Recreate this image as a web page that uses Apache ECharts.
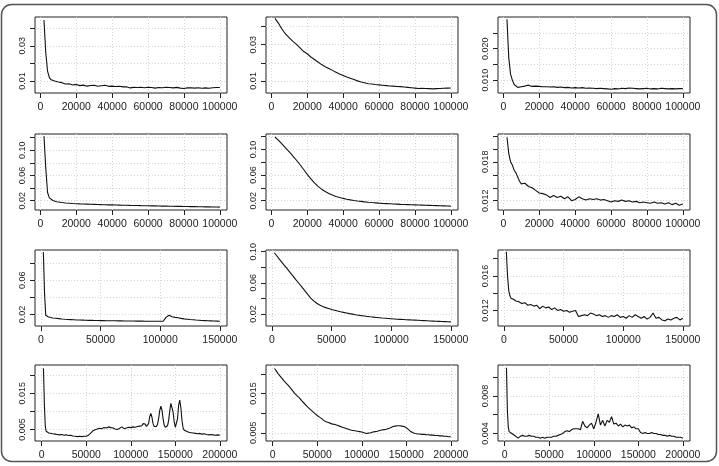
<!DOCTYPE html>
<html>
<head>
<meta charset="utf-8">
<script src="https://cdn.jsdelivr.net/npm/echarts@6/dist/echarts.min.js"></script>
<style>
  html, body { margin: 0; padding: 0; background: #fff; }
  #chart { width: 719px; height: 466px; }
</style>
</head>
<body>
<div id="chart"></div>
<script>
// x positions shared by each row of panels
const x100 = [2000,3000,4000,5000,6000,7000,8000,9000,10000,12000,14000,16000,18000,20000,22000,24000,26000,28000,30000,32000,34000,36000,38000,40000,42000,44000,46000,48000,50000,52000,54000,56000,58000,60000,62000,64000,66000,68000,70000,72000,74000,76000,78000,80000,82000,84000,86000,88000,90000,92000,94000,96000,98000,100000];
const x150 = [2000,3000,4000,5000,6000,8000,10000,12500,15000,17500,20000,22500,25000,27500,30000,32500,35000,37500,40000,42500,45000,47500,50000,52500,55000,57500,60000,62500,65000,67500,70000,72500,75000,77500,80000,82500,85000,87500,90000,92500,95000,97500,100000,102500,105000,107500,110000,112500,115000,117500,120000,122500,125000,127500,130000,132500,135000,137500,140000,142500,145000,147500,150000];
const x200 = [2000,3000,4000,5000,6000,8000,10000,12500,15000,17500,20000,22500,25000,27500,30000,32500,35000,37500,40000,42500,45000,47500,50000,52500,55000,57500,60000,62500,65000,67500,70000,72500,75000,77500,80000,82500,85000,87500,90000,92500,95000,97500,100000,102500,105000,107500,110000,112500,115000,117500,120000,122500,125000,127500,130000,132500,135000,137500,140000,142500,145000,147500,150000,152500,155000,157500,160000,162500,165000,167500,170000,172500,175000,177500,180000,182500,185000,187500,190000,192500,195000,197500,200000];
// panel 10 is read more finely around its peaks
const x10 = [2000,3000,4000,5000,6000,8000,10000,12500,15000,17500,20000,22500,25000,27500,30000,32500,35000,37500,40000,42500,45000,47500,50000,52500,55000,57500,60000,62500,65000,67500,70000,72500,75000,77500,80000,82500,85000,87500,90000,92500,95000,97500,100000,102500,105000,107500,108750,110000,111250,112500,113750,115000,116250,117500,118750,120000,121250,122500,123750,125000,126250,127500,128750,130000,131250,132500,133750,135000,136250,137500,138750,140000,141250,142500,143750,145000,146250,147500,148750,150000,151250,152500,153750,155000,156250,157500,158750,160000,161250,162500,165000,167500,170000,172500,175000,177500,180000,182500,185000,187500,190000,192500,195000,197500,200000];

// row 1
const y1 = [0.0447,0.026,0.0156,0.0119,0.0106,0.0102,0.0099,0.0097,0.0094,0.0090,0.0082,0.0084,0.0077,0.0080,0.0073,0.0076,0.0070,0.0074,0.0075,0.0069,0.0072,0.0075,0.0069,0.0070,0.0068,0.0069,0.0066,0.0067,0.0060,0.0063,0.0062,0.0064,0.0061,0.0064,0.0062,0.0059,0.0062,0.0061,0.0064,0.0062,0.0060,0.0063,0.0059,0.0057,0.0060,0.0061,0.0059,0.0061,0.0058,0.0060,0.0058,0.0061,0.0062,0.0062];
const y2 = [0.0445,0.0435,0.0418,0.0400,0.0385,0.0370,0.0358,0.0350,0.0338,0.0318,0.0302,0.0282,0.0262,0.0250,0.0232,0.0218,0.0204,0.0190,0.0178,0.0168,0.0158,0.0148,0.0138,0.0130,0.0122,0.0115,0.0108,0.0100,0.0094,0.0090,0.0084,0.0083,0.0080,0.0078,0.0076,0.0074,0.0072,0.0071,0.0069,0.0068,0.0066,0.0064,0.0062,0.0060,0.0058,0.0059,0.0058,0.0057,0.0056,0.0057,0.0058,0.0059,0.0060,0.0061];
const y3 = [0.0294,0.0171,0.0119,0.0100,0.0086,0.0080,0.0077,0.0078,0.0079,0.0081,0.0084,0.0080,0.0081,0.0080,0.0079,0.0079,0.0078,0.0079,0.0077,0.0078,0.0076,0.0077,0.0075,0.0076,0.0075,0.0076,0.0074,0.0075,0.0074,0.0073,0.0074,0.0073,0.0072,0.0071,0.0073,0.0072,0.0074,0.0073,0.0075,0.0074,0.0073,0.0072,0.0073,0.0074,0.0072,0.0073,0.0072,0.0074,0.0073,0.0072,0.0073,0.0072,0.0073,0.0073];
// row 2
const y4 = [0.1225,0.072,0.033,0.0245,0.0215,0.0202,0.0192,0.0184,0.0178,0.0170,0.0164,0.0160,0.0155,0.0152,0.0149,0.0147,0.0145,0.0143,0.0141,0.0139,0.0137,0.0136,0.0134,0.0133,0.0131,0.0130,0.0128,0.0127,0.0125,0.0124,0.0123,0.0121,0.0120,0.0119,0.0118,0.0117,0.0115,0.0114,0.0113,0.0112,0.0111,0.0110,0.0109,0.0108,0.0107,0.0106,0.0105,0.0104,0.0103,0.0102,0.0101,0.0100,0.0099,0.0098];
const y5 = [0.1195,0.1170,0.1142,0.1112,0.1082,0.1052,0.1022,0.0992,0.0962,0.0897,0.0832,0.0762,0.0688,0.0610,0.0540,0.0478,0.0425,0.0380,0.0343,0.0313,0.0288,0.0267,0.0250,0.0236,0.0224,0.0213,0.0204,0.0196,0.0189,0.0182,0.0176,0.0171,0.0167,0.0162,0.0158,0.0155,0.0152,0.0149,0.0146,0.0143,0.0141,0.0139,0.0137,0.0135,0.0133,0.0131,0.0129,0.0127,0.0125,0.0123,0.0121,0.0119,0.0117,0.0115];
const y6 = [0.0218,0.0193,0.0180,0.0175,0.0167,0.0163,0.0160,0.0150,0.0146,0.0147,0.0142,0.0140,0.0136,0.0132,0.0131,0.0129,0.0125,0.0128,0.0125,0.0127,0.0123,0.0126,0.0120,0.0122,0.0126,0.0123,0.0121,0.0123,0.0122,0.0123,0.0121,0.0122,0.0120,0.0118,0.0120,0.0119,0.0121,0.0119,0.0120,0.0118,0.0119,0.0117,0.0118,0.0117,0.0116,0.0118,0.0116,0.0117,0.0115,0.0117,0.0114,0.0116,0.0113,0.0115];
// row 3
const y7 = [0.093,0.045,0.019,0.0180,0.0172,0.0163,0.0158,0.0154,0.0150,0.0146,0.0143,0.0141,0.0139,0.0137,0.0135,0.0134,0.0133,0.0132,0.0130,0.0130,0.0129,0.0128,0.0127,0.0127,0.0126,0.0126,0.0125,0.0125,0.0124,0.0124,0.0123,0.0123,0.0122,0.0122,0.0121,0.0121,0.0121,0.0120,0.0120,0.0120,0.0119,0.0119,0.0119,0.0120,0.0168,0.0190,0.0172,0.0165,0.0160,0.0153,0.0148,0.0144,0.0140,0.0137,0.0134,0.0132,0.0129,0.0127,0.0125,0.0124,0.0122,0.0121,0.0119];
const y8 = [0.0987,0.0968,0.0948,0.0928,0.0908,0.0870,0.0832,0.0785,0.0738,0.0690,0.0642,0.0595,0.0548,0.0500,0.0452,0.0405,0.0368,0.0338,0.0315,0.0297,0.0282,0.0270,0.0258,0.0248,0.0238,0.0229,0.0221,0.0213,0.0205,0.0198,0.0191,0.0185,0.0179,0.0174,0.0169,0.0164,0.0160,0.0156,0.0152,0.0148,0.0145,0.0142,0.0139,0.0136,0.0133,0.0131,0.0129,0.0127,0.0125,0.0123,0.0121,0.0119,0.0117,0.0115,0.0113,0.0111,0.0109,0.0107,0.0106,0.0104,0.0102,0.0100,0.0099];
const y9 = [0.0188,0.0160,0.0143,0.0137,0.0134,0.0133,0.0131,0.0130,0.0128,0.0129,0.0126,0.0127,0.0125,0.0126,0.0122,0.0125,0.0123,0.0124,0.0121,0.0123,0.0120,0.0121,0.0119,0.0120,0.0118,0.0119,0.0120,0.0113,0.0114,0.0115,0.0114,0.0117,0.0116,0.0114,0.0115,0.0113,0.0114,0.0112,0.0114,0.0113,0.0115,0.0112,0.0113,0.0111,0.0114,0.0112,0.0115,0.0113,0.0111,0.0113,0.0110,0.0112,0.0117,0.0111,0.0112,0.0109,0.0108,0.0110,0.0109,0.0111,0.0112,0.0109,0.0111];
// row 4
const y10 = [0.0219,0.0120,0.0060,0.0045,0.0042,0.0040,0.0039,0.0038,0.0037,0.0036,0.0035,0.0036,0.0034,0.0035,0.0033,0.0034,0.0032,0.0031,0.0030,0.0031,0.0030,0.0031,0.0031,0.0034,0.0040,0.0046,0.0049,0.0051,0.0053,0.0052,0.0055,0.0054,0.0057,0.0055,0.0054,0.0051,0.0050,0.0053,0.0057,0.0052,0.0054,0.0056,0.0055,0.0057,0.0056,
  0.0058,0.0059,0.0059,0.0058,0.0060,0.0066,0.0071,0.0065,0.0058,0.0058,0.0066,0.0085,0.0094,0.0084,0.0066,0.0058,0.0057,0.0058,0.0064,0.0080,0.0102,0.0114,0.0104,0.0080,0.0062,0.0056,0.0055,0.0060,0.0075,0.0102,0.0122,0.0121,0.0098,0.0070,0.0056,0.0060,0.0080,0.0118,0.0131,0.0110,0.0074,0.0054,0.0048,0.0046,0.0045,
  0.0042,0.0041,0.0040,0.0039,0.0038,0.0039,0.0037,0.0038,0.0036,0.0035,0.0036,0.0035,0.0034,0.0035,0.0034];
const y11 = [0.0214,0.0211,0.0208,0.0204,0.0201,0.0196,0.0190,0.0183,0.0177,0.0171,0.0164,0.0157,0.0150,0.0144,0.0139,0.0132,0.0126,0.0120,0.0114,0.0109,0.0104,0.0099,0.0094,0.0090,0.0086,0.0081,0.0078,0.0076,0.0074,0.0072,0.0071,0.0069,0.0067,0.0065,0.0063,0.0061,0.0059,0.0057,0.0056,0.0055,0.0054,0.0053,0.0052,0.0050,0.0048,0.0049,0.0050,0.0052,0.0053,0.0054,0.0056,0.0057,0.0058,0.0059,0.0061,0.0063,0.0066,0.0067,0.0068,0.0068,0.0067,0.0066,0.0063,0.0058,0.0053,0.0050,0.0048,0.0047,0.0047,0.0046,0.0046,0.0045,0.0045,0.0044,0.0044,0.0043,0.0043,0.0042,0.0042,0.0041,0.0041,0.0040,0.0040];
const y12 = [0.0110,0.0065,0.0047,0.0042,0.0041,0.0040,0.0039,0.0037,0.0035,0.0037,0.0038,0.0037,0.0037,0.0038,0.0037,0.0037,0.0036,0.0036,0.0035,0.0036,0.0035,0.0036,0.0036,0.0036,0.0037,0.0037,0.0038,0.0039,0.0040,0.0042,0.0043,0.0042,0.0044,0.0045,0.0045,0.0045,0.0044,0.0053,0.0048,0.0046,0.0049,0.0051,0.0045,0.0052,0.0061,0.0049,0.0054,0.0048,0.0054,0.0052,0.0058,0.0050,0.0051,0.0048,0.0050,0.0047,0.0049,0.0048,0.0049,0.0046,0.0047,0.0045,0.0045,0.0041,0.0040,0.0041,0.0040,0.0040,0.0041,0.0040,0.0040,0.0039,0.0039,0.0038,0.0038,0.0037,0.0038,0.0037,0.0037,0.0036,0.0036,0.0036,0.0035];

// axis ticks and labels
const xTicks100 = [0, 20000, 40000, 60000, 80000, 100000];
const xTicks150 = [0, 50000, 100000, 150000];
const xTicks200 = [0, 50000, 100000, 150000, 200000];
const yTicksA = [0.01, 0.02, 0.03, 0.04];
const yLabA = ['0.01', '0.03'];
const yTicksB = [0.010, 0.015, 0.020, 0.025];
const yLabB = ['0.010', '0.020'];
const yTicksC = [0.02, 0.04, 0.06, 0.08, 0.10, 0.12];
const yLabC = ['0.02', '0.06', '0.10'];
const yTicksD = [0.012, 0.014, 0.016, 0.018, 0.020, 0.022];
const yLabD = ['0.012', '0.018'];
const yTicksE = [0.02, 0.04, 0.06, 0.08];
const yLabE = ['0.02', '0.06'];
const yTicksF = [0.02, 0.04, 0.06, 0.08, 0.10];
const yLabF = ['0.02', '0.06', '0.10'];
const yTicksG = [0.012, 0.014, 0.016, 0.018];
const yLabG = ['0.012', '0.016'];
const yTicksH = [0.005, 0.010, 0.015, 0.020];
const yLabH = ['0.005', '0.015'];
const yTicksI = [0.004, 0.006, 0.008, 0.010];
const yLabI = ['0.004', '0.008'];

const panels = [
  { x: x100, y: y1, xr: [-3000, 104000], xt: xTicks100, yr: [0.0031, 0.0464], yt: yTicksA, yl: yLabA },
  { x: x100, y: y2, xr: [-3000, 104000], xt: xTicks100, yr: [0.0033, 0.0453], yt: yTicksA, yl: yLabA },
  { x: x100, y: y3, xr: [-3000, 104000], xt: xTicks100, yr: [0.0059, 0.0301], yt: yTicksB, yl: yLabB },
  { x: x100, y: y4, xr: [-3000, 104000], xt: xTicks100, yr: [0.0052, 0.1259], yt: yTicksC, yl: yLabC },
  { x: x100, y: y5, xr: [-3000, 104000], xt: xTicks100, yr: [0.0055, 0.1242], yt: yTicksC, yl: yLabC },
  { x: x100, y: y6, xr: [-3000, 104000], xt: xTicks100, yr: [0.01057, 0.0223], yt: yTicksD, yl: yLabD },
  { x: x150, y: y7, xr: [-5000, 156000], xt: xTicks150, yr: [0.0064, 0.0955], yt: yTicksE, yl: yLabE },
  { x: x150, y: y8, xr: [-5000, 156000], xt: xTicks150, yr: [0.0046, 0.1022], yt: yTicksF, yl: yLabF },
  { x: x150, y: y9, xr: [-5000, 156000], xt: xTicks150, yr: [0.0102, 0.0190], yt: yTicksG, yl: yLabG },
  { x: x10,  y: y10, xr: [-7500, 208000], xt: xTicks200, yr: [0.0018, 0.0228], yt: yTicksH, yl: yLabH },
  { x: x200, y: y11, xr: [-7500, 208000], xt: xTicks200, yr: [0.0029, 0.0223], yt: yTicksH, yl: yLabH },
  { x: x200, y: y12, xr: [-7500, 208000], xt: xTicks200, yr: [0.0032, 0.0113], yt: yTicksI, yl: yLabI }
];

const colLeft = [35, 266, 498];
const rowTop = [17, 134, 250, 365];
const boxW = 192;
const boxH = 76;

const chart = echarts.init(document.getElementById('chart'), null, { renderer: 'canvas' });
const grid = [], xAxis = [], yAxis = [], series = [];
const gridLine = { show: true, lineStyle: { color: '#d6d6d6', type: [1, 2], width: 1 } };

panels.forEach((p, i) => {
  const r = Math.floor(i / 3), c = i % 3;
  const labVals = p.yl.map(s => parseFloat(s));
  grid.push({
    left: colLeft[c], top: rowTop[r], width: boxW, height: boxH,
    show: true, borderColor: '#222', borderWidth: 1, backgroundColor: 'transparent'
  });
  xAxis.push({
    type: 'value', gridIndex: i, min: p.xr[0], max: p.xr[1],
    axisLine: { show: false, onZero: false },
    axisTick: { show: true, length: 5, customValues: p.xt, lineStyle: { color: '#222' } },
    axisLabel: { customValues: p.xt, margin: 9, fontSize: 10.5, color: '#222', formatter: v => String(v) },
    splitLine: gridLine
  });
  yAxis.push({
    type: 'value', gridIndex: i, min: p.yr[0], max: p.yr[1],
    axisLine: { show: false, onZero: false },
    axisTick: { show: true, length: 5, customValues: p.yt, lineStyle: { color: '#222' } },
    axisLabel: {
      customValues: labVals, margin: 8, fontSize: 9, color: '#222', rotate: 90,
      formatter: v => {
        let k = 0;
        labVals.forEach((lv, j) => { if (Math.abs(lv - v) < Math.abs(labVals[k] - v)) k = j; });
        return p.yl[k];
      }
    },
    splitLine: gridLine
  });
  series.push({
    type: 'line', xAxisIndex: i, yAxisIndex: i,
    data: p.x.map((xv, j) => [xv, p.y[j]]),
    showSymbol: false, clip: true,
    lineStyle: { color: '#111', width: 1.1 }
  });
});

chart.setOption({
  animation: false,
  backgroundColor: '#fff',
  textStyle: { fontFamily: 'Liberation Sans, Arial, sans-serif' },
  grid: grid,
  xAxis: xAxis,
  yAxis: yAxis,
  series: series,
  graphic: [{
    type: 'rect', silent: true,
    shape: { x: 1.5, y: 4.5, width: 715, height: 457, r: 10 },
    style: { fill: 'none', stroke: '#555', lineWidth: 1.5 }
  }]
});
</script>
</body>
</html>
